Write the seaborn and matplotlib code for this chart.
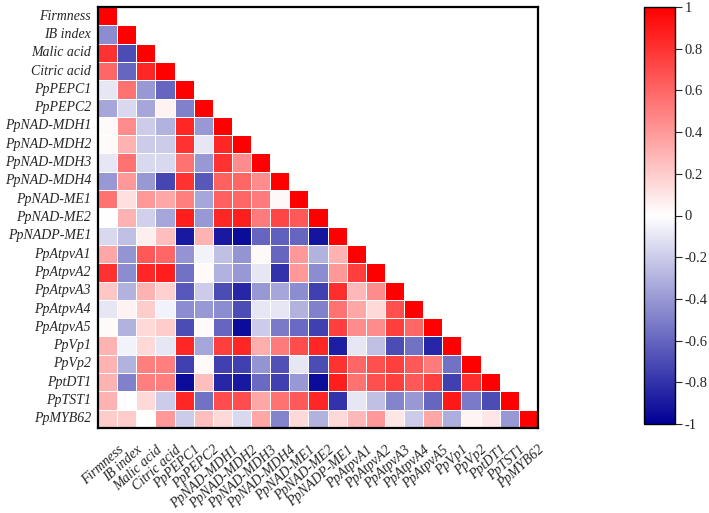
import numpy as np
import pandas as pd
import seaborn as sns
import matplotlib.pyplot as plt
from matplotlib.colors import LinearSegmentedColormap
from matplotlib.transforms import ScaledTranslation

labels = ["Firmness", "IB index", "Malic acid", "Citric acid", "PpPEPC1", "PpPEPC2",
          "PpNAD-MDH1", "PpNAD-MDH2", "PpNAD-MDH3", "PpNAD-MDH4", "PpNAD-ME1",
          "PpNAD-ME2", "PpNADP-ME1", "PpAtpvA1", "PpAtpvA2", "PpAtpvA3", "PpAtpvA4",
          "PpAtpvA5", "PpVp1", "PpVp2", "PptDT1", "PpTST1", "PpMYB62"]

# lower triangle of the correlation matrix, row by row (diagonal = 1)
lower = [
    [],
    [-0.45],
    [0.8, -0.7],
    [0.6, -0.6, 0.85],
    [-0.1, 0.55, -0.4, -0.6],
    [-0.35, -0.15, -0.35, 0.05, -0.5],
    [0.02, 0.45, -0.2, -0.3, 0.85, -0.4],
    [0.02, 0.3, -0.2, -0.2, 0.8, -0.1, 0.85],
    [-0.1, 0.55, -0.15, -0.15, 0.55, -0.4, 0.8, 0.45],
    [-0.4, 0.4, -0.4, -0.72, 0.8, -0.65, 0.62, 0.6, 0.45],
    [0.55, 0.12, 0.4, 0.35, 0.5, -0.35, 0.62, 0.6, 0.52, 0.03],
    [0.0, 0.3, -0.18, -0.35, 0.88, -0.4, 0.85, 0.88, 0.52, 0.72, 0.65],
    [-0.15, -0.25, 0.07, 0.25, -0.9, 0.3, -0.9, -0.95, -0.6, -0.62, -0.6, -0.92],
    [0.35, -0.42, 0.65, 0.6, -0.42, -0.05, -0.25, -0.42, 0.03, -0.6, 0.4, -0.3, 0.3],
    [0.8, -0.45, 0.85, 0.88, -0.55, 0.02, -0.3, -0.4, -0.1, -0.8, 0.4, -0.45, 0.4, 0.75],
    [0.22, -0.3, 0.3, 0.18, -0.65, -0.2, -0.7, -0.85, -0.4, -0.35, -0.45, -0.75, 0.82, 0.28, 0.45],
    [-0.1, 0.05, 0.2, -0.05, -0.45, -0.4, -0.45, -0.7, -0.1, -0.1, -0.3, -0.5, 0.55, 0.35, 0.15, 0.68],
    [0.02, -0.3, 0.15, 0.2, -0.7, 0.02, -0.6, -0.95, -0.2, -0.52, -0.58, -0.75, 0.75, 0.45, 0.45, 0.75, 0.6],
    [0.3, -0.05, 0.15, -0.1, 0.85, -0.35, 0.75, 0.85, 0.32, 0.52, 0.7, 0.85, -0.88, -0.1, -0.25, -0.7, -0.55, -0.85],
    [0.3, -0.3, 0.5, 0.5, -0.75, 0.02, -0.75, -0.75, -0.42, -0.68, -0.1, -0.7, 0.8, 0.6, 0.68, 0.75, 0.65, 0.52, -0.55],
    [0.3, -0.5, 0.5, 0.5, -0.95, 0.25, -0.85, -0.9, -0.58, -0.75, -0.4, -0.95, 0.88, 0.55, 0.68, 0.75, 0.65, 0.75, -0.75, 0.82],
    [0.3, 0.0, 0.15, -0.2, 0.85, -0.55, 0.7, 0.7, 0.35, 0.55, 0.65, 0.85, -0.8, -0.1, -0.25, -0.48, -0.4, -0.6, 0.9, -0.52, -0.7],
    [0.2, 0.2, 0.0, 0.4, -0.2, 0.25, 0.15, -0.15, 0.35, -0.48, 0.15, -0.3, 0.15, 0.28, 0.4, 0.1, -0.2, 0.35, -0.32, 0.04, 0.1, -0.4],
]

cbar_ticks = [-1, -0.8, -0.6, -0.4, -0.2, 0, 0.2, 0.4, 0.6, 0.8, 1]

n = len(labels)
mat = np.eye(n)
for i, row in enumerate(lower):
    for j, v in enumerate(row):
        mat[i, j] = v
        mat[j, i] = v
df = pd.DataFrame(mat, index=labels, columns=labels)
mask = np.triu(np.ones_like(mat, dtype=bool), k=1)

sns.set_style("white")
plt.rcParams["font.family"] = ["Liberation Serif", "DejaVu Serif"]

cmap = LinearSegmentedColormap.from_list("bwr_navy", ["#000096", "#ffffff", "#ff0000"])

fig = plt.figure(figsize=(7.09, 5.13), dpi=100)
ax = fig.add_axes([98 / 709, 1 - 428 / 513, 440 / 709, 421 / 513])
cax = fig.add_axes([644 / 709, 1 - 424 / 513, 31 / 709, 417 / 513])

sns.heatmap(df, mask=mask, cmap=cmap, vmin=-1, vmax=1, linewidths=0.5,
            linecolor="white", ax=ax, cbar_ax=cax,
            cbar_kws={"ticks": cbar_ticks})

for s in ax.spines.values():
    s.set_visible(True)
    s.set_color("black")
    s.set_linewidth(1.6)

ax.tick_params(axis="y", length=0, pad=5)
ax.tick_params(axis="x", length=0, pad=11)
ax.set_xticklabels(labels, rotation=42, ha="right", rotation_mode="anchor",
                   fontstyle="italic", fontsize=10)
ax.set_yticklabels(labels, rotation=0, fontstyle="italic", fontsize=10)
shift = ScaledTranslation(7 / 72, 0, fig.dpi_scale_trans)
for t in ax.get_xticklabels():
    t.set_transform(t.get_transform() + shift)

cb = ax.collections[0].colorbar
cb.outline.set_edgecolor("black")
cb.outline.set_linewidth(1.0)
cb.ax.tick_params(length=5, width=0.8, labelsize=10.5, pad=2)
cb.ax.set_yticklabels([f"{t:g}" for t in cbar_ticks])

fig.savefig("out.png", dpi=100)
